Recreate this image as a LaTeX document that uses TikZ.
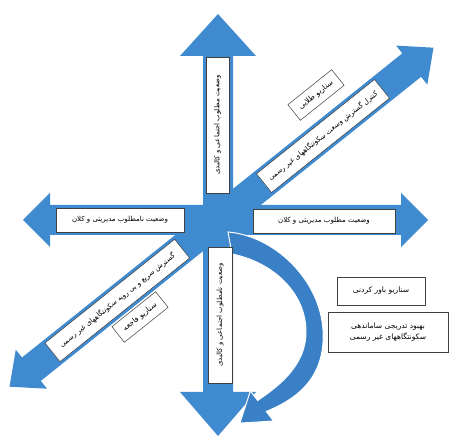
\documentclass[tikz,border=0pt]{standalone}
\usepackage{fontspec}
\newfontfamily\fa[Script=Arabic]{DejaVu Sans}
\TeXXeTstate=1
\definecolor{arrowblue}{RGB}{64,138,208}
\definecolor{curveblue}{RGB}{58,128,198}
\tikzset{
  lbl/.style={draw=black!75, fill=white, line width=0.5pt, inner sep=1pt,
    font=\fa\fontsize{7}{9}\selectfont, align=center},
  scen/.style={lbl, font=\fa\fontsize{7.5}{10.5}\selectfont},
  blueshape/.style={fill=arrowblue, draw=none}
}
\begin{document}
\begin{tikzpicture}[x=1pt,y=-1pt]
\fill[white] (0,0) rectangle (458,443);
\useasboundingbox (0,0) rectangle (458,443);
% horizontal double arrow
\fill[blueshape] (50,205) -- (50,193) -- (23,220) -- (50,247) -- (50,235) -- (401,235) -- (401,247) -- (428,220) -- (401,193) -- (401,205) -- cycle;
% vertical double arrow
\fill[blueshape] (203,56) -- (180,56) -- (218,14) -- (256,56) -- (233,56) -- (233,392) -- (256,392) -- (218,436) -- (180,392) -- (203,392) -- cycle;
% diagonal double arrow
\fill[blueshape] (402.3,53.4) -- (396.1,45.6) -- (433.5,47.7) -- (427.3,84.6) -- (421.1,76.8) -- (40.8,380.9) -- (47.0,388.7) -- (9.5,386.7) -- (15.8,349.7) -- (22.0,357.5) -- cycle;
% curved arrow
\filldraw[fill=curveblue, draw=white, line width=1pt]
  (228,232) .. controls (275,236) and (320,280) .. (323,330)
  .. controls (326,380) and (294,400) .. (266.3,411.5)
  -- (273.6,421.0) -- (239.9,423.1) -- (250.4,391.0) -- (257.7,400.5)
  .. controls (274,389) and (306,368) .. (306,332)
  .. controls (306,292) and (272,262) .. (232,254) -- cycle;
% axis labels
\node[lbl, rotate=90, minimum width=136, minimum height=23] (up) at (217.5,125) {\beginR وضعیت مطلوب اجتماعی و کالبدی\endR};
\node[lbl, rotate=90, minimum width=136, minimum height=24] (down) at (220,315) {\beginR وضعیت نامطلوب اجتماعی و کالبدی\endR};
\node[lbl, minimum width=128, minimum height=24] (left) at (120,220) {\beginR وضعیت نامطلوب مدیریتی و کلان\endR};
\node[lbl, minimum width=142, minimum height=24] (right) at (324,221) {\beginR وضعیت مطلوب مدیریتی و کلان\endR};
\node[lbl, rotate=38.64, minimum width=151, minimum height=24] (ur) at (323,136) {\beginR کنترل گسترش وسعت سکونتگاههای غیر رسمی\endR};
\node[lbl, rotate=38.64, minimum width=166, minimum height=24] (ll) at (117.3,300.5) {\beginR گسترش سریع و بی رویه سکونتگاههای غیر رسمی\endR};
% scenario boxes
\node[scen, rotate=38.64, minimum width=56, minimum height=20] (gold) at (316,95) {\beginR سناریو طلایی\endR};
\node[scen, rotate=38.64, minimum width=56, minimum height=20] (disaster) at (140,317) {\beginR سناریو فاجعه\endR};
\node[scen, minimum width=88, minimum height=28] (believe) at (381,291) {\beginR سناریو باور کردنی\endR};
\node[scen, minimum width=120, minimum height=40] (gradual) at (388,332) {\beginR بهبود تدریجی ساماندهی\endR\\\beginR سکونتگاههای غیر رسمی\endR};
\end{tikzpicture}
\end{document}
